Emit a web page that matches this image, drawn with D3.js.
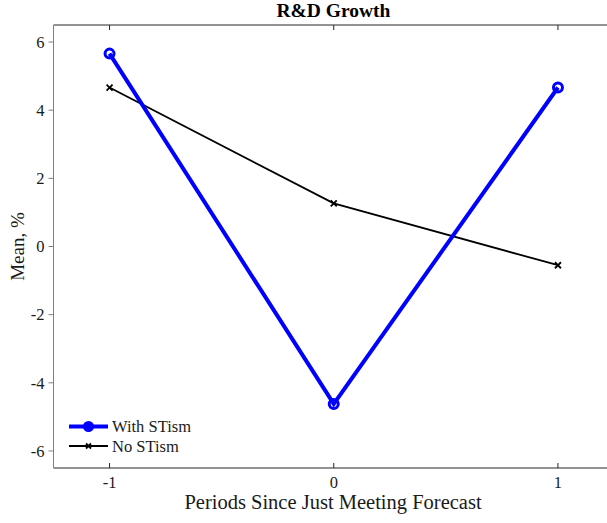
<!DOCTYPE html>
<html><head><meta charset="utf-8">
<script src="https://cdn.jsdelivr.net/npm/d3@7"></script>
<style>body{margin:0;background:#fff}svg{display:block}text{font-family:"Liberation Serif","Times New Roman",serif}</style>
</head><body>
<script>
const periods = [-1, 0, 1];
const withSTism = [5.66, -4.62, 4.665];
const noSTism = [4.665, 1.265, -0.55];
const xTicks = [-1, 0, 1];
const yTicks = [-6, -4, -2, 0, 2, 4, 6];
const seriesNames = ["With STism", "No STism"];

const W = 607, H = 523;
const L = 53.5, T = 25, R = 614, B = 468;
const svg = d3.select("body").append("svg").attr("width", W).attr("height", H);
const x = d3.scaleLinear().domain([-1.25, 1.25]).range([L, R]);
const y = d3.scaleLinear().domain([-6.5, 6.5]).range([B, T]);

// axes box lines
svg.append("line").attr("x1", L).attr("x2", R).attr("y1", T).attr("y2", T).attr("stroke", "#262626").attr("stroke-width", 1);
svg.append("line").attr("x1", L).attr("x2", R).attr("y1", B).attr("y2", B).attr("stroke", "#262626").attr("stroke-width", 1);
svg.append("line").attr("x1", L).attr("x2", L).attr("y1", T).attr("y2", B).attr("stroke", "#808080").attr("stroke-width", 1);

// x ticks (inward, top & bottom)
xTicks.forEach(t => {
  svg.append("line").attr("x1", x(t)).attr("x2", x(t)).attr("y1", B).attr("y2", B - 5).attr("stroke", "#262626");
  svg.append("line").attr("x1", x(t)).attr("x2", x(t)).attr("y1", T).attr("y2", T + 5).attr("stroke", "#262626");
  svg.append("text").attr("x", x(t)).attr("y", 488).attr("text-anchor", "middle").attr("font-size", 16.5).attr("fill", "#1a1a1a").text(t);
});
// y ticks (outward)
yTicks.forEach(t => {
  svg.append("line").attr("x1", L - 5).attr("x2", L).attr("y1", y(t)).attr("y2", y(t)).attr("stroke", "#808080");
  svg.append("text").attr("x", L - 9).attr("y", y(t)).attr("dy", "0.35em").attr("text-anchor", "end").attr("font-size", 16.5).attr("fill", "#1a1a1a").text(t);
});

// labels
svg.append("text").attr("x", 333.5).attr("y", 17).attr("text-anchor", "middle").attr("font-size", 19.5).attr("font-weight", "bold").text("R&D Growth");
svg.append("text").attr("x", 333).attr("y", 509).attr("text-anchor", "middle").attr("font-size", 20.5).attr("fill", "#1a1a1a").text("Periods Since Just Meeting Forecast");
svg.append("text").attr("transform", "translate(24," + y(0) + ") rotate(-90)").attr("text-anchor", "middle").attr("font-size", 19).attr("fill", "#1a1a1a").text("Mean, %");

const line = d3.line().x((d, i) => x(periods[i])).y(d => y(d));

// No STism
svg.append("path").attr("d", line(noSTism)).attr("fill", "none").attr("stroke", "#000").attr("stroke-width", 1.8);
const xMark = (g, cx, cy, s) => {
  g.append("path").attr("d", `M${cx - s},${cy - s}L${cx + s},${cy + s}M${cx - s},${cy + s}L${cx + s},${cy - s}`).attr("stroke", "#000").attr("stroke-width", 1.8);
};
noSTism.forEach((v, i) => xMark(svg, x(periods[i]), y(v), 3));

// With STism
svg.append("path").attr("d", line(withSTism)).attr("fill", "none").attr("stroke", "#0000ff").attr("stroke-width", 4);
withSTism.forEach((v, i) => {
  svg.append("circle").attr("cx", x(periods[i])).attr("cy", y(v)).attr("r", 4.5).attr("fill", "none").attr("stroke", "#0000ff").attr("stroke-width", 3);
});

// legend
const lg = svg.append("g");
lg.append("line").attr("x1", 69).attr("x2", 108).attr("y1", 426.5).attr("y2", 426.5).attr("stroke", "#0000ff").attr("stroke-width", 4);
lg.append("circle").attr("cx", 88.5).attr("cy", 426.5).attr("r", 4.5).attr("fill", "#0000ff").attr("stroke", "#0000ff").attr("stroke-width", 2);
lg.append("text").attr("x", 112).attr("y", 426.5).attr("dy", "0.35em").attr("font-size", 16.5).attr("fill", "#1a1a1a").text(seriesNames[0]);
lg.append("line").attr("x1", 69).attr("x2", 108).attr("y1", 446).attr("y2", 446).attr("stroke", "#000").attr("stroke-width", 1.8);
xMark(lg, 88.5, 446, 2.5);
lg.append("text").attr("x", 112).attr("y", 446).attr("dy", "0.35em").attr("font-size", 16.5).attr("fill", "#1a1a1a").text(seriesNames[1]);
</script>
</body></html>
